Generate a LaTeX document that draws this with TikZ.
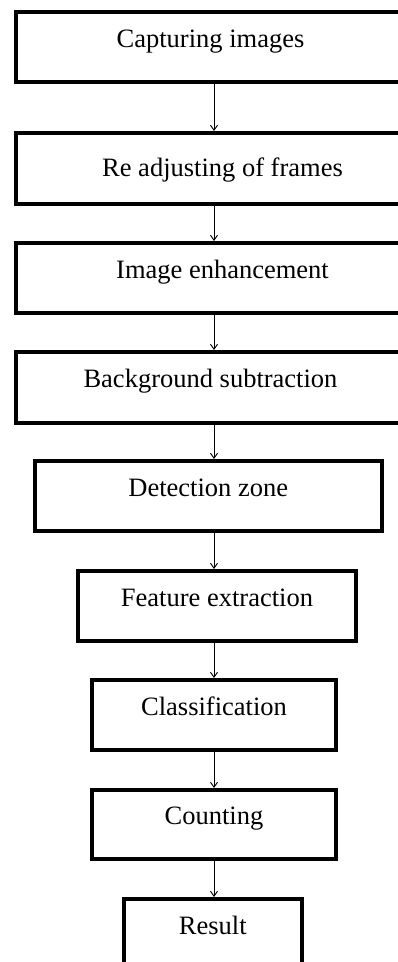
\documentclass[tikz,border=0pt]{standalone}
\usepackage{fontspec}
\setmainfont{Liberation Serif}
\usetikzlibrary{arrows.meta}
\tikzstyle{block} = [draw, line width=4pt,
	inner xsep=0pt, inner ysep=0pt,
	text height=35pt, text depth=35pt,
	font=\fontsize{26.5}{30}\selectfont]
\tikzstyle{arrow} = [-{Straight Barb[length=5pt, width=7pt]}, line width=0.9pt]

\begin{document}
\begin{tikzpicture}[x=1pt, y=-1pt]
	\useasboundingbox (0,0) rectangle (398,962);
	\clip (0,0) rectangle (398,962);
	\coordinate (spine) at (214,0);

	\node (cap) [block, minimum width=390pt] at (210.5,47) {Capturing images};
	\node (adj) [block, minimum width=414pt, text height=43.5pt, text depth=27pt] at (222.5,168.25) {Re adjusting of frames};
	\node (enh) [block, minimum width=414pt] at (222.5,278) {Image enhancement};
	\node (bg) [block, minimum width=390pt, text height=35.5pt, text depth=35.5pt] at (210.5,387.5) {Background subtraction};
	\node (det) [block, minimum width=347.5pt] at (208.25,496) {Detection zone};
	\node (feat) [block, minimum width=278pt] at (217,606) {Feature extraction};
	\node (cls) [block, minimum width=244pt] at (214,715) {Classification};
	\node (cnt) [block, minimum width=244pt, text height=34.5pt, text depth=34.5pt] at (214,824.5) {Counting};
	\node (res) [block, minimum width=178.5pt] at (212.75,934) {Result};

	\draw [arrow] (cap.south -| spine) -- (adj.north -| spine);
	\draw [arrow] (adj.south -| spine) -- (enh.north -| spine);
	\draw [arrow] (enh.south -| spine) -- (bg.north -| spine);
	\draw [arrow] (bg.south -| spine) -- (det.north -| spine);
	\draw [arrow] (det.south -| spine) -- (feat.north -| spine);
	\draw [arrow] (feat.south -| spine) -- (cls.north -| spine);
	\draw [arrow] (cls.south -| spine) -- (cnt.north -| spine);
	\draw [arrow] (cnt.south -| spine) -- (res.north -| spine);
\end{tikzpicture}
\end{document}
